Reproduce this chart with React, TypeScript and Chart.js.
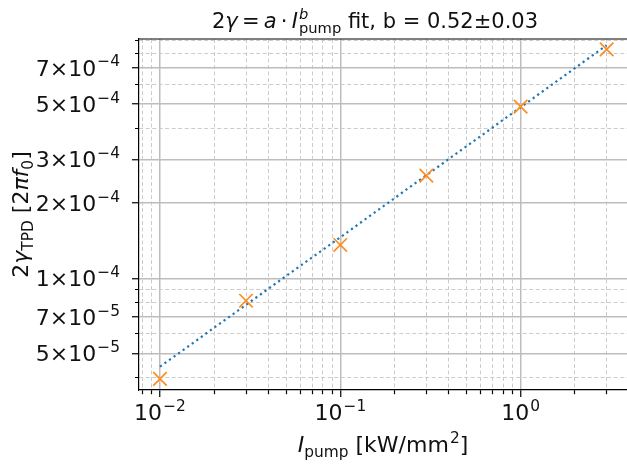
import React, { useEffect, useRef } from 'react';
import { Chart, registerables } from 'chart.js';

Chart.register(...registerables);

// ---- data ----
const pumpIntensity = [0.01, 0.03, 0.1, 0.3, 1, 3];
const gammaMeasured = [3.95e-5, 8.13e-5, 1.36e-4, 2.58e-4, 4.88e-4, 8.28e-4];
const gammaFit = [4.42e-5, 7.83e-5, 1.46e-4, 2.59e-4, 4.85e-4, 8.6e-4];

const xTickValues = [
  0.008, 0.009, 0.01, 0.02, 0.03, 0.04, 0.05, 0.06, 0.07, 0.08, 0.09,
  0.1, 0.2, 0.3, 0.4, 0.5, 0.6, 0.7, 0.8, 0.9, 1, 2, 3,
];
const xTickLabels = [
  '', '', '10^−2', '', '', '', '', '', '', '', '',
  '10^−1', '', '', '', '', '', '', '', '', '10^0', '', '',
];
const yTickValues = [
  4e-5, 5e-5, 6e-5, 7e-5, 8e-5, 9e-5, 1e-4, 2e-4, 3e-4, 4e-4, 5e-4, 6e-4, 7e-4, 8e-4, 9e-4,
];
const yTickLabels = [
  '', '5×10^−5', '', '7×10^−5', '', '', '1×10^−4', '2×10^−4', '3×10^−4', '', '5×10^−4', '', '7×10^−4', '', '',
];

const X_MIN = 0.00765;
const X_MAX = 3.89;
const Y_MIN = 3.565e-5;
const Y_MAX = 9.11e-4;

const FAMILY = "'DejaVu Sans', sans-serif";
const TITLE_SIZE = 21;
const LABEL_SIZE = 22;
const TICK_SIZE = 22;

type Seg = { t: string; it?: boolean; pos?: 'sup' | 'sub'; stack?: boolean };

const titleSegs: Seg[] = [
  { t: '2' }, { t: 'γ', it: true }, { t: '\u2009=\u2009' }, { t: 'a', it: true }, { t: '\u2009·\u2009' },
  { t: 'I', it: true }, { t: 'b', it: true, pos: 'sup' }, { t: 'pump', pos: 'sub', stack: true },
  { t: ' fit, b = 0.52±0.03' },
];
const xLabelSegs: Seg[] = [
  { t: 'I', it: true }, { t: 'pump', pos: 'sub' }, { t: ' [kW/mm' }, { t: '2', pos: 'sup' }, { t: ']' },
];
const yLabelSegs: Seg[] = [
  { t: '2' }, { t: 'γ', it: true }, { t: 'TPD', pos: 'sub' }, { t: ' [2' }, { t: 'πf', it: true },
  { t: '0', pos: 'sub' }, { t: ']' },
];

function fontFor(s: Seg, size: number) {
  const px = s.pos ? size * 0.7 : size;
  return `${s.it ? 'italic ' : ''}${px}px ${FAMILY}`;
}

function powerSegs(label: string): Seg[] {
  const [base, exp] = label.split('^');
  return [{ t: base }, { t: exp, pos: 'sup' }];
}

function drawRich(
  ctx: CanvasRenderingContext2D,
  segs: Seg[],
  size: number,
  ax: number,
  baseY: number,
  rotate: boolean,
  align: 'center' | 'right' | 'left' = 'center',
) {
  ctx.save();
  ctx.translate(ax, baseY);
  if (rotate) ctx.rotate(-Math.PI / 2);
  let x = 0;
  let prevStart = 0;
  let prevW = 0;
  const items: { s: Seg; start: number; dy: number }[] = [];
  for (const s of segs) {
    ctx.font = fontFor(s, size);
    const w = ctx.measureText(s.t).width;
    let start: number;
    if (s.stack) {
      start = prevStart;
      const end = Math.max(prevStart + prevW, start + w);
      x = end;
      prevW = end - start;
    } else {
      start = x + (s.pos === 'sup' ? size * 0.05 : 0);
      x = start + w;
      prevStart = start;
      prevW = w;
    }
    const dy = s.pos === 'sup' ? -0.42 * size : s.pos === 'sub' ? 0.22 * size : 0;
    items.push({ s, start, dy });
  }
  const shift = align === 'center' ? -x / 2 : align === 'right' ? -x : 0;
  ctx.textAlign = 'left';
  ctx.textBaseline = 'alphabetic';
  ctx.fillStyle = '#111';
  for (const it of items) {
    ctx.font = fontFor(it.s, size);
    ctx.fillText(it.s.t, it.start + shift, it.dy);
  }
  ctx.restore();
}

const textPlugin = {
  id: 'richText',
  afterDraw(chart: any) {
    const { ctx, chartArea, scales } = chart;
    // top spine
    ctx.save();
    ctx.strokeStyle = '#000';
    ctx.lineWidth = 1.2;
    ctx.beginPath();
    ctx.moveTo(chartArea.left, chartArea.top);
    ctx.lineTo(chartArea.right, chartArea.top);
    ctx.stroke();
    ctx.restore();

    // tick labels (positions from the chart's own scales)
    xTickValues.forEach((v, i) => {
      if (!xTickLabels[i]) return;
      const px = scales.x.getPixelForValue(v);
      drawRich(ctx, powerSegs(xTickLabels[i]), TICK_SIZE, px, chartArea.bottom + 30, false, 'center');
    });
    yTickValues.forEach((v, i) => {
      if (!yTickLabels[i]) return;
      const py = scales.y.getPixelForValue(v);
      drawRich(ctx, powerSegs(yTickLabels[i]), TICK_SIZE, chartArea.left - 19, py + 8, false, 'right');
    });

    const cx = (chartArea.left + chartArea.right) / 2;
    drawRich(ctx, titleSegs, TITLE_SIZE, 212, 28, false, 'left');
    drawRich(ctx, xLabelSegs, LABEL_SIZE, cx, 452, false);
    drawRich(ctx, yLabelSegs, LABEL_SIZE, 28, (chartArea.top + chartArea.bottom) / 2, true);
  },
};

export default function App() {
  const ref = useRef<HTMLCanvasElement | null>(null);
  useEffect(() => {
    document.body.style.margin = '0';
    const canvas = ref.current;
    if (!canvas) return;
    Chart.defaults.font.family = FAMILY;
    const xMajor = (v: number) => xTickLabels[xTickValues.indexOf(v)] !== '';
    const yMajor = (v: number) => yTickLabels[yTickValues.indexOf(v)] !== '';
    const chart = new Chart(canvas, {
      type: 'scatter',
      data: {
        datasets: [
          {
            label: 'measured',
            data: pumpIntensity.map((x, i) => ({ x, y: gammaMeasured[i] })),
            pointStyle: 'crossRot',
            pointRadius: 9.5,
            pointBorderWidth: 1.7,
            borderColor: '#ff8c1f',
            backgroundColor: '#ff8c1f',
            showLine: false,
          },
          {
            label: 'fit',
            data: pumpIntensity.map((x, i) => ({ x, y: gammaFit[i] })),
            showLine: true,
            borderColor: '#1f77b4',
            borderWidth: 2.2,
            borderDash: [2.2, 3.4],
            pointRadius: 0,
            fill: false,
            tension: 0,
          } as any,
        ],
      },
      options: {
        responsive: false,
        animation: false,
        devicePixelRatio: 1,
        layout: { autoPadding: false, padding: { top: 39, right: 0, left: 0, bottom: 0 } },
        plugins: { legend: { display: false }, tooltip: { enabled: false }, title: { display: false } },
        scales: {
          x: {
            type: 'logarithmic',
            bounds: 'data',
            min: X_MIN,
            max: X_MAX,
            afterBuildTicks: (scale: any) => {
              scale.ticks = xTickValues.map((v) => ({ value: v, major: false }));
            },
            afterFit: (scale: any) => {
              scale.height = 76;
              scale.paddingLeft = 0;
              scale.paddingRight = 0;
            },
            ticks: { display: false, autoSkip: false, maxRotation: 0, minRotation: 0 },
            grid: {
              color: (c: any) => (c.tick && xMajor(c.tick.value) ? '#bdbdbd' : '#cccccc'),
              lineWidth: (c: any) => (c.tick && xMajor(c.tick.value) ? 1.5 : 1),
              tickColor: '#000',
              tickLength: 7,
              tickWidth: 1.2,
              tickBorderDash: (c: any) => (c.tick && xMajor(c.tick.value) ? [] : [4, 100]),
            },
            border: {
              color: '#000',
              width: 1.2,
              dash: (c: any) => (c.tick && !xMajor(c.tick.value) ? [4, 2.5] : []),
            },
          },
          y: {
            type: 'logarithmic',
            bounds: 'data',
            min: Y_MIN,
            max: Y_MAX,
            afterBuildTicks: (scale: any) => {
              scale.ticks = yTickValues.map((v) => ({ value: v, major: false }));
            },
            afterFit: (scale: any) => {
              scale.width = 139;
              scale.paddingTop = 0;
              scale.paddingBottom = 0;
            },
            ticks: { display: false, autoSkip: false },
            grid: {
              color: (c: any) => (c.tick && yMajor(c.tick.value) ? '#bdbdbd' : '#cccccc'),
              lineWidth: (c: any) => (c.tick && yMajor(c.tick.value) ? 1.5 : 1),
              tickColor: '#000',
              tickLength: 7,
              tickWidth: 1.2,
              tickBorderDash: (c: any) => (c.tick && yMajor(c.tick.value) ? [] : [0, 3, 4, 100]),
            },
            border: {
              color: '#000',
              width: 1.2,
              dash: (c: any) => (c.tick && !yMajor(c.tick.value) ? [4, 2.5] : []),
            },
          },
        },
      } as any,
      plugins: [textPlugin],
    });
    return () => chart.destroy();
  }, []);
  return <canvas ref={ref} width={627} height={466} style={{ display: 'block', width: 627, height: 466 }} />;
}
